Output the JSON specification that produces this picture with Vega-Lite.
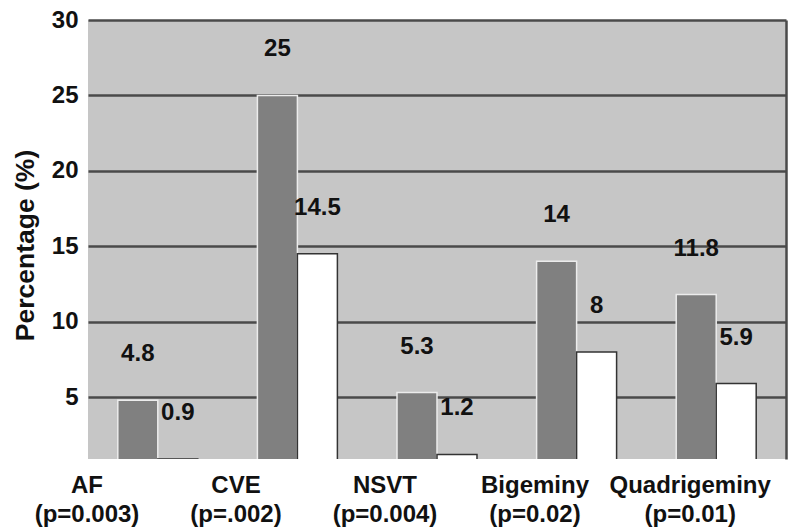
{
  "$schema": "https://vega.github.io/schema/vega-lite/v6.json",
  "width": 698,
  "height": 439,
  "autosize": "none",
  "padding": {"left": 88, "top": 20, "right": 14, "bottom": 72},
  "background": "#ffffff",
  "view": {"fill": "#c6c6c6", "stroke": null},
  "config": {
    "font": "Liberation Sans",
    "axis": {"labelFont": "Liberation Sans", "titleFont": "Liberation Sans"}
  },
  "data": {
    "values": [
      {"category": "AF|(p=0.003)", "group": "A", "value": 4.8},
      {"category": "AF|(p=0.003)", "group": "B", "value": 0.9},
      {"category": "CVE|(p=.002)", "group": "A", "value": 25},
      {"category": "CVE|(p=.002)", "group": "B", "value": 14.5},
      {"category": "NSVT|(p=0.004)", "group": "A", "value": 5.3},
      {"category": "NSVT|(p=0.004)", "group": "B", "value": 1.2},
      {"category": "Bigeminy|(p=0.02)", "group": "A", "value": 14},
      {"category": "Bigeminy|(p=0.02)", "group": "B", "value": 8},
      {"category": "Quadrigeminy|(p=0.01)", "group": "A", "value": 11.8},
      {"category": "Quadrigeminy|(p=0.01)", "group": "B", "value": 5.9}
    ]
  },
  "encoding": {
    "x": {
      "field": "category",
      "type": "nominal",
      "sort": null,
      "scale": {"paddingInner": 0.427, "paddingOuter": 0.2135},
      "axis": {
        "title": null,
        "labelAngle": 0,
        "domain": false,
        "ticks": false,
        "labelExpr": "split(datum.label, '|')",
        "labelFontSize": 24,
        "labelFontWeight": "bold",
        "labelColor": "#111111",
        "labelBaseline": "alphabetic",
        "labelPadding": 33,
        "labelLineHeight": 29,
        "labelLimit": 300,
        "labelOffset": {
          "condition": [
            {"test": "datum.value === 'AF|(p=0.003)'", "value": -70.8},
            {"test": "datum.value === 'CVE|(p=.002)'", "value": -61.4},
            {"test": "datum.value === 'NSVT|(p=0.004)'", "value": -52},
            {"test": "datum.value === 'Bigeminy|(p=0.02)'", "value": -41.6}
          ],
          "value": -26
        }
      }
    },
    "xOffset": {"field": "group", "type": "nominal", "sort": ["A", "B"]},
    "y": {
      "field": "value",
      "type": "quantitative",
      "scale": {"domain": [0.9, 30], "zero": false, "nice": false},
      "axis": {
        "title": "Percentage (%)",
        "titleFontSize": 26.5,
        "titleFontWeight": "bold",
        "titleColor": "#111111",
        "titlePadding": 12,
        "titleY": 225,
        "values": [5, 10, 15, 20, 25, 30],
        "labelFontSize": 24,
        "labelFontWeight": "bold",
        "labelColor": "#111111",
        "labelPadding": 10,
        "domain": false,
        "ticks": false,
        "grid": true,
        "gridColor": "#4a4a4a",
        "gridWidth": 2.5,
        "gridOpacity": 1
      }
    }
  },
  "layer": [
    {
      "mark": {"type": "bar", "strokeWidth": 1.5, "clip": true},
      "encoding": {
        "fill": {"field": "group", "type": "nominal", "scale": {"domain": ["A", "B"], "range": ["#808080", "#ffffff"]}, "legend": null},
        "stroke": {"field": "group", "type": "nominal", "scale": {"domain": ["A", "B"], "range": ["#ececec", "#333333"]}, "legend": null}
      }
    },
    {
      "mark": {"type": "text", "dy": -46, "baseline": "middle", "align": "center", "fontSize": 24, "fontWeight": "bold", "color": "#111111", "font": "Liberation Sans"},
      "encoding": {
        "text": {"field": "value", "type": "quantitative"},
        "y": {
          "field": "value",
          "type": "quantitative",
          "axis": {
            "orient": "right",
            "title": null,
            "labels": false,
            "ticks": false,
            "grid": false,
            "domain": true,
            "domainColor": "#4a4a4a",
            "domainWidth": 2.5
          }
        }
      }
    }
  ],
  "resolve": {"axis": {"y": "independent"}}
}
